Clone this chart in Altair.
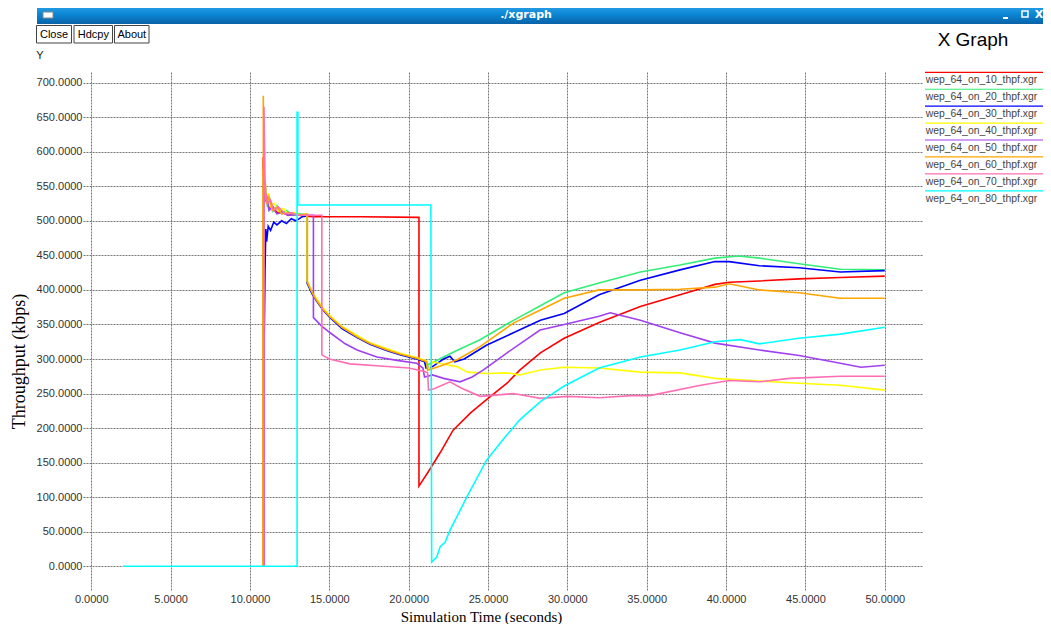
import altair as alt
import pandas as pd

SERIES = ["wep_64_on_10_thpf.xgr", "wep_64_on_20_thpf.xgr", "wep_64_on_30_thpf.xgr",
          "wep_64_on_40_thpf.xgr", "wep_64_on_50_thpf.xgr", "wep_64_on_60_thpf.xgr",
          "wep_64_on_70_thpf.xgr", "wep_64_on_80_thpf.xgr"]
COLORS = ["#ff0000", "#33ee77", "#0000ff", "#ffff00", "#a040f0", "#ffa500", "#ff6eb4", "#00ffff"]

X_TICKS = [0, 5, 10, 15, 20, 25, 30, 35, 40, 45, 50]
Y_TICKS = [0, 50, 100, 150, 200, 250, 300, 350, 400, 450, 500, 550, 600, 650, 700]

s10_x = [10.83, 10.83, 10.88, 10.95, 11.05, 11.2, 11.4, 11.7, 12.0, 12.4, 12.8, 13.3, 14.0, 17.0, 20.65, 20.65,
         21.3, 22.0, 22.8, 23.9, 25.0, 26.2, 27.0, 28.3, 29.8, 32.0, 34.6, 37.1, 39.3, 40.2, 42.1, 44.6, 47.2, 50.0]
s10_y = [0, 592, 545, 528, 536, 518, 522, 512, 514, 508, 510, 507, 506, 506, 505, 116,
         139, 165, 197, 222, 243, 265, 284, 309, 330, 353, 376, 393, 408, 411, 413, 416, 418, 420]

s20_x = [10.86, 10.86, 10.92, 11.0, 11.1, 11.25, 11.45, 11.7, 12.0, 12.3, 12.7, 13.1, 13.6, 13.6, 13.9, 14.2,
         14.6, 15.05, 15.8, 16.75, 17.6, 18.65, 19.5, 20.5, 21.1, 21.15, 21.6, 22.2, 23.0, 24.5, 26.6, 28.3,
         29.8, 32.0, 34.6, 37.1, 39.3, 40.8, 42.1, 44.6, 47.2, 50.0]
s20_y = [0, 560, 530, 548, 520, 532, 514, 522, 510, 515, 508, 510, 509, 412, 396, 386,
         372, 361, 345, 333, 322, 314, 307, 301, 297, 291, 296, 303, 312, 328, 356, 377,
         396, 410, 426, 436, 446, 449, 446, 438, 430, 429]

s30_x = [10.9, 10.9, 10.95, 11.0, 11.05, 11.15, 11.3, 11.5, 11.7, 12.0, 12.3, 12.6, 12.9, 13.3, 13.6, 13.6,
         13.9, 14.2, 14.6, 15.05, 15.8, 16.75, 17.6, 18.65, 19.5, 20.5, 21.0, 21.1, 21.5, 22.2, 22.6, 22.9,
         23.5, 24.9, 26.6, 28.3, 29.8, 32.0, 34.6, 37.1, 39.3, 40.2, 42.1, 44.6, 47.2, 50.0]
s30_y = [0, 330, 430, 488, 470, 492, 486, 498, 494, 500, 496, 503, 500, 506, 507, 410,
         395, 384, 371, 360, 344, 331, 321, 312, 306, 300, 296, 287, 289, 300, 304, 296,
         300, 320, 338, 356, 366, 393, 414, 429, 441, 441, 435, 432, 426, 428]

s40_x = [10.85, 10.85, 10.9, 10.97, 11.05, 11.15, 11.3, 11.5, 11.8, 12.1, 12.4, 12.8, 13.2, 13.6, 13.6, 13.9,
         14.2, 14.6, 15.05, 15.8, 16.75, 17.6, 18.65, 19.5, 20.5, 21.15, 21.2, 21.5, 22.3, 23.05, 23.7, 25.0,
         26.2, 27.0, 28.3, 29.8, 32.0, 34.6, 37.1, 39.3, 42.1, 44.6, 47.2, 50.0]
s40_y = [0, 575, 540, 555, 528, 540, 520, 526, 514, 518, 510, 512, 508, 510, 413, 398,
         387, 374, 362, 347, 334, 323, 315, 308, 302, 297, 284, 296, 292, 289, 281, 279,
         280, 277, 284, 288, 287, 281, 280, 272, 268, 265, 262, 255]

s50_x = [10.88, 10.88, 10.95, 11.05, 11.2, 11.4, 11.7, 12.0, 12.4, 12.8, 13.3, 14.0, 14.0, 14.5, 15.05, 16.0,
         16.75, 18.0, 19.26, 20.5, 20.9, 21.0, 21.5, 22.2, 23.24, 24.0, 24.69, 26.2, 28.28, 29.8, 32.0, 32.7,
         34.6, 37.1, 39.3, 42.1, 44.6, 47.2, 48.5, 50.0]
s50_y = [0, 555, 528, 536, 515, 520, 510, 512, 508, 509, 508, 508, 360, 348, 338, 322,
         313, 303, 298, 294, 287, 274, 277, 272, 267, 274, 284, 309, 342, 350, 362, 367,
         356, 338, 323, 313, 305, 294, 288, 291]

s60_x = [10.84, 10.84, 10.9, 10.95, 11.05, 11.2, 11.4, 11.7, 12.0, 12.5, 13.0, 13.62, 13.62, 13.9, 14.2, 14.6,
         15.05, 15.8, 16.75, 17.6, 18.65, 19.5, 20.5, 21.15, 21.2, 22.0, 23.05, 24.5, 26.6, 28.3, 29.8, 32.0,
         34.6, 37.1, 39.3, 40.2, 42.1, 44.6, 47.2, 50.0]
s60_y = [0, 681, 560, 545, 525, 535, 515, 520, 510, 512, 508, 510, 411, 397, 385, 372,
         361, 346, 332, 322, 313, 307, 301, 296, 284, 290, 299, 318, 352, 371, 388, 400,
         400, 401, 404, 409, 400, 396, 388, 388]

s70_x = [10.88, 10.88, 10.95, 11.0, 11.1, 11.3, 11.5, 11.8, 12.2, 12.6, 13.0, 14.53, 14.53, 15.0, 16.3, 18.2,
         20.0, 21.0, 21.2, 21.25, 21.6, 22.6, 23.3, 24.5, 26.6, 28.3, 30.0, 32.0, 34.0, 35.2, 38.4, 40.2,
         42.1, 44.0, 47.2, 50.0]
s70_y = [0, 665, 560, 540, 525, 530, 515, 520, 510, 512, 508, 508, 306, 300, 293, 290,
         287, 282, 280, 255, 257, 267, 258, 246, 250, 243, 246, 244, 247, 247, 262, 269,
         267, 272, 275, 275]

s80_x = [2.0, 12.97, 12.97, 13.02, 13.02, 21.4, 21.45, 21.76, 21.98, 22.3, 22.6, 23.0, 23.66, 24.92, 26.0, 27.0,
         28.28, 29.8, 32.0, 34.6, 37.1, 39.3, 40.9, 42.1, 44.6, 47.2, 50.0]
s80_y = [0, 0, 657, 657, 523, 523, 6, 13, 28, 35, 52, 70, 100, 154, 185, 212,
         238, 261, 287, 303, 313, 325, 328, 322, 330, 336, 346]

XS = [s10_x, s20_x, s30_x, s40_x, s50_x, s60_x, s70_x, s80_x]
YS = [s10_y, s20_y, s30_y, s40_y, s50_y, s60_y, s70_y, s80_y]

rows = []
for name, xs, ys in zip(SERIES, XS, YS):
    for i, (a, b) in enumerate(zip(xs, ys)):
        rows.append({"series": name, "x": a, "y": b, "i": i})
df = pd.DataFrame(rows)

LABEL_FONT = "Liberation Sans"
TITLE_FONT = "Liberation Serif"

lines = alt.Chart(df).mark_line(strokeWidth=1.6).encode(
    x=alt.X("x:Q",
            scale=alt.Scale(domain=[-0.52, 52.41], nice=False, zero=False),
            axis=alt.Axis(values=X_TICKS, format=".4f", title="Simulation Time (seconds)",
                          labelPadding=3, labelFlush=False, labelAlign="center",
                          titleFontSize=15,
                          titleX=398, titleY=26, titleBaseline="middle", titleAlign="center")),
    y=alt.Y("y:Q",
            scale=alt.Scale(domain=[-34.3, 715.4], nice=False, zero=False),
            axis=alt.Axis(values=Y_TICKS, format=".4f", title="Throughput (kbps)",
                          labelPadding=1, labelFlush=False, titleFontSize=18,
                          titleX=-64, titleY=289, titleAngle=270, titleBaseline="middle",
                          titleAlign="center")),
    color=alt.Color("series:N", scale=alt.Scale(domain=SERIES, range=COLORS), legend=None),
    order=alt.Order("i:Q"),
)

one = pd.DataFrame({"k": [0]})


def rect(x1, y1, x2, y2, **kw):
    return alt.Chart(one).mark_rect(**kw).encode(
        x=alt.value(x1), x2=alt.value(x2), y=alt.value(y1), y2=alt.value(y2))


def text(s, x, y, **kw):
    return alt.Chart(one).mark_text(text=s, **kw).encode(x=alt.value(x), y=alt.value(y))


def hrule(x1, x2, y, **kw):
    return alt.Chart(one).mark_rule(**kw).encode(x=alt.value(x1), x2=alt.value(x2), y=alt.value(y))


grad = alt.LinearGradient(
    gradient="linear",
    stops=[alt.GradientStop(color="#2fa2e8", offset=0),
           alt.GradientStop(color="#0a86d4", offset=0.5),
           alt.GradientStop(color="#0a62a6", offset=1)],
    x1=0, x2=0, y1=0, y2=1)

decor = [
    rect(-46, -67, 968, -48, fill=grad),
    rect(-40, -60, -30, -54, fill="#ffffff", stroke="#888888", strokeWidth=1),
    text("./xgraph", 443, -57.5, font="DejaVu Sans", fontSize=11, fontWeight="bold",
         color="#ffffff", align="center", baseline="middle"),
    hrule(920, 925, -54, color="#ffffff", strokeWidth=2),
    rect(939, -61, 945, -55, fill="#ffffff", fillOpacity=0.0, stroke="#ffffff", strokeWidth=1.5),
    text("X", 956, -57.5, font="DejaVu Sans", fontSize=11, fontWeight="bold",
         color="#ffffff", align="center", baseline="middle"),
    rect(-46.5, -46.5, -11.5, -29, fill="#ffffff", stroke="#444444", strokeWidth=1),
    rect(-9, -46.5, 29.5, -29, fill="#ffffff", stroke="#444444", strokeWidth=1),
    rect(31.5, -46.5, 66, -29, fill="#ffffff", stroke="#444444", strokeWidth=1),
    text("Close", -29, -37.5, font=LABEL_FONT, fontSize=11, color="#000000",
         align="center", baseline="middle"),
    text("Hdcpy", 10.3, -37.5, font=LABEL_FONT, fontSize=11, color="#000000",
         align="center", baseline="middle"),
    text("About", 48.8, -37.5, font=LABEL_FONT, fontSize=11, color="#000000",
         align="center", baseline="middle"),
    text("Y", -43, -16.5, font=LABEL_FONT, fontSize=11, color="#222222",
         align="center", baseline="middle"),
    text("X Graph", 890, -32, font=LABEL_FONT, fontSize=19, color="#000000",
         align="center", baseline="middle"),
]

for k, (name, col) in enumerate(zip(SERIES, COLORS)):
    ly = 0.3 + 16.93 * k
    decor.append(hrule(842, 968, ly, color=col, strokeWidth=1.2))
    decor.append(text(name, 842.7, ly + 8, font=LABEL_FONT, fontSize=10.4, color="#444444",
                      align="left", baseline="middle"))

chart = alt.layer(lines, *decor).properties(
    width=840, height=518,
    autosize=alt.AutoSizeParams(type="none"),
    padding={"left": 75, "top": 64, "right": 120, "bottom": 34},
    background="#ffffff",
).configure_view(stroke=None).configure_axis(
    grid=True, gridDash=[2, 1], gridColor="#777777", gridWidth=1,
    domain=False, ticks=False,
    labelFont=LABEL_FONT, labelFontSize=11, labelColor="#333333",
    titleFont=TITLE_FONT, titleFontSize=16, titleFontWeight="normal", titleColor="#000000",
)

chart.save("out.html", embed_options={"renderer": "svg", "actions": False})
